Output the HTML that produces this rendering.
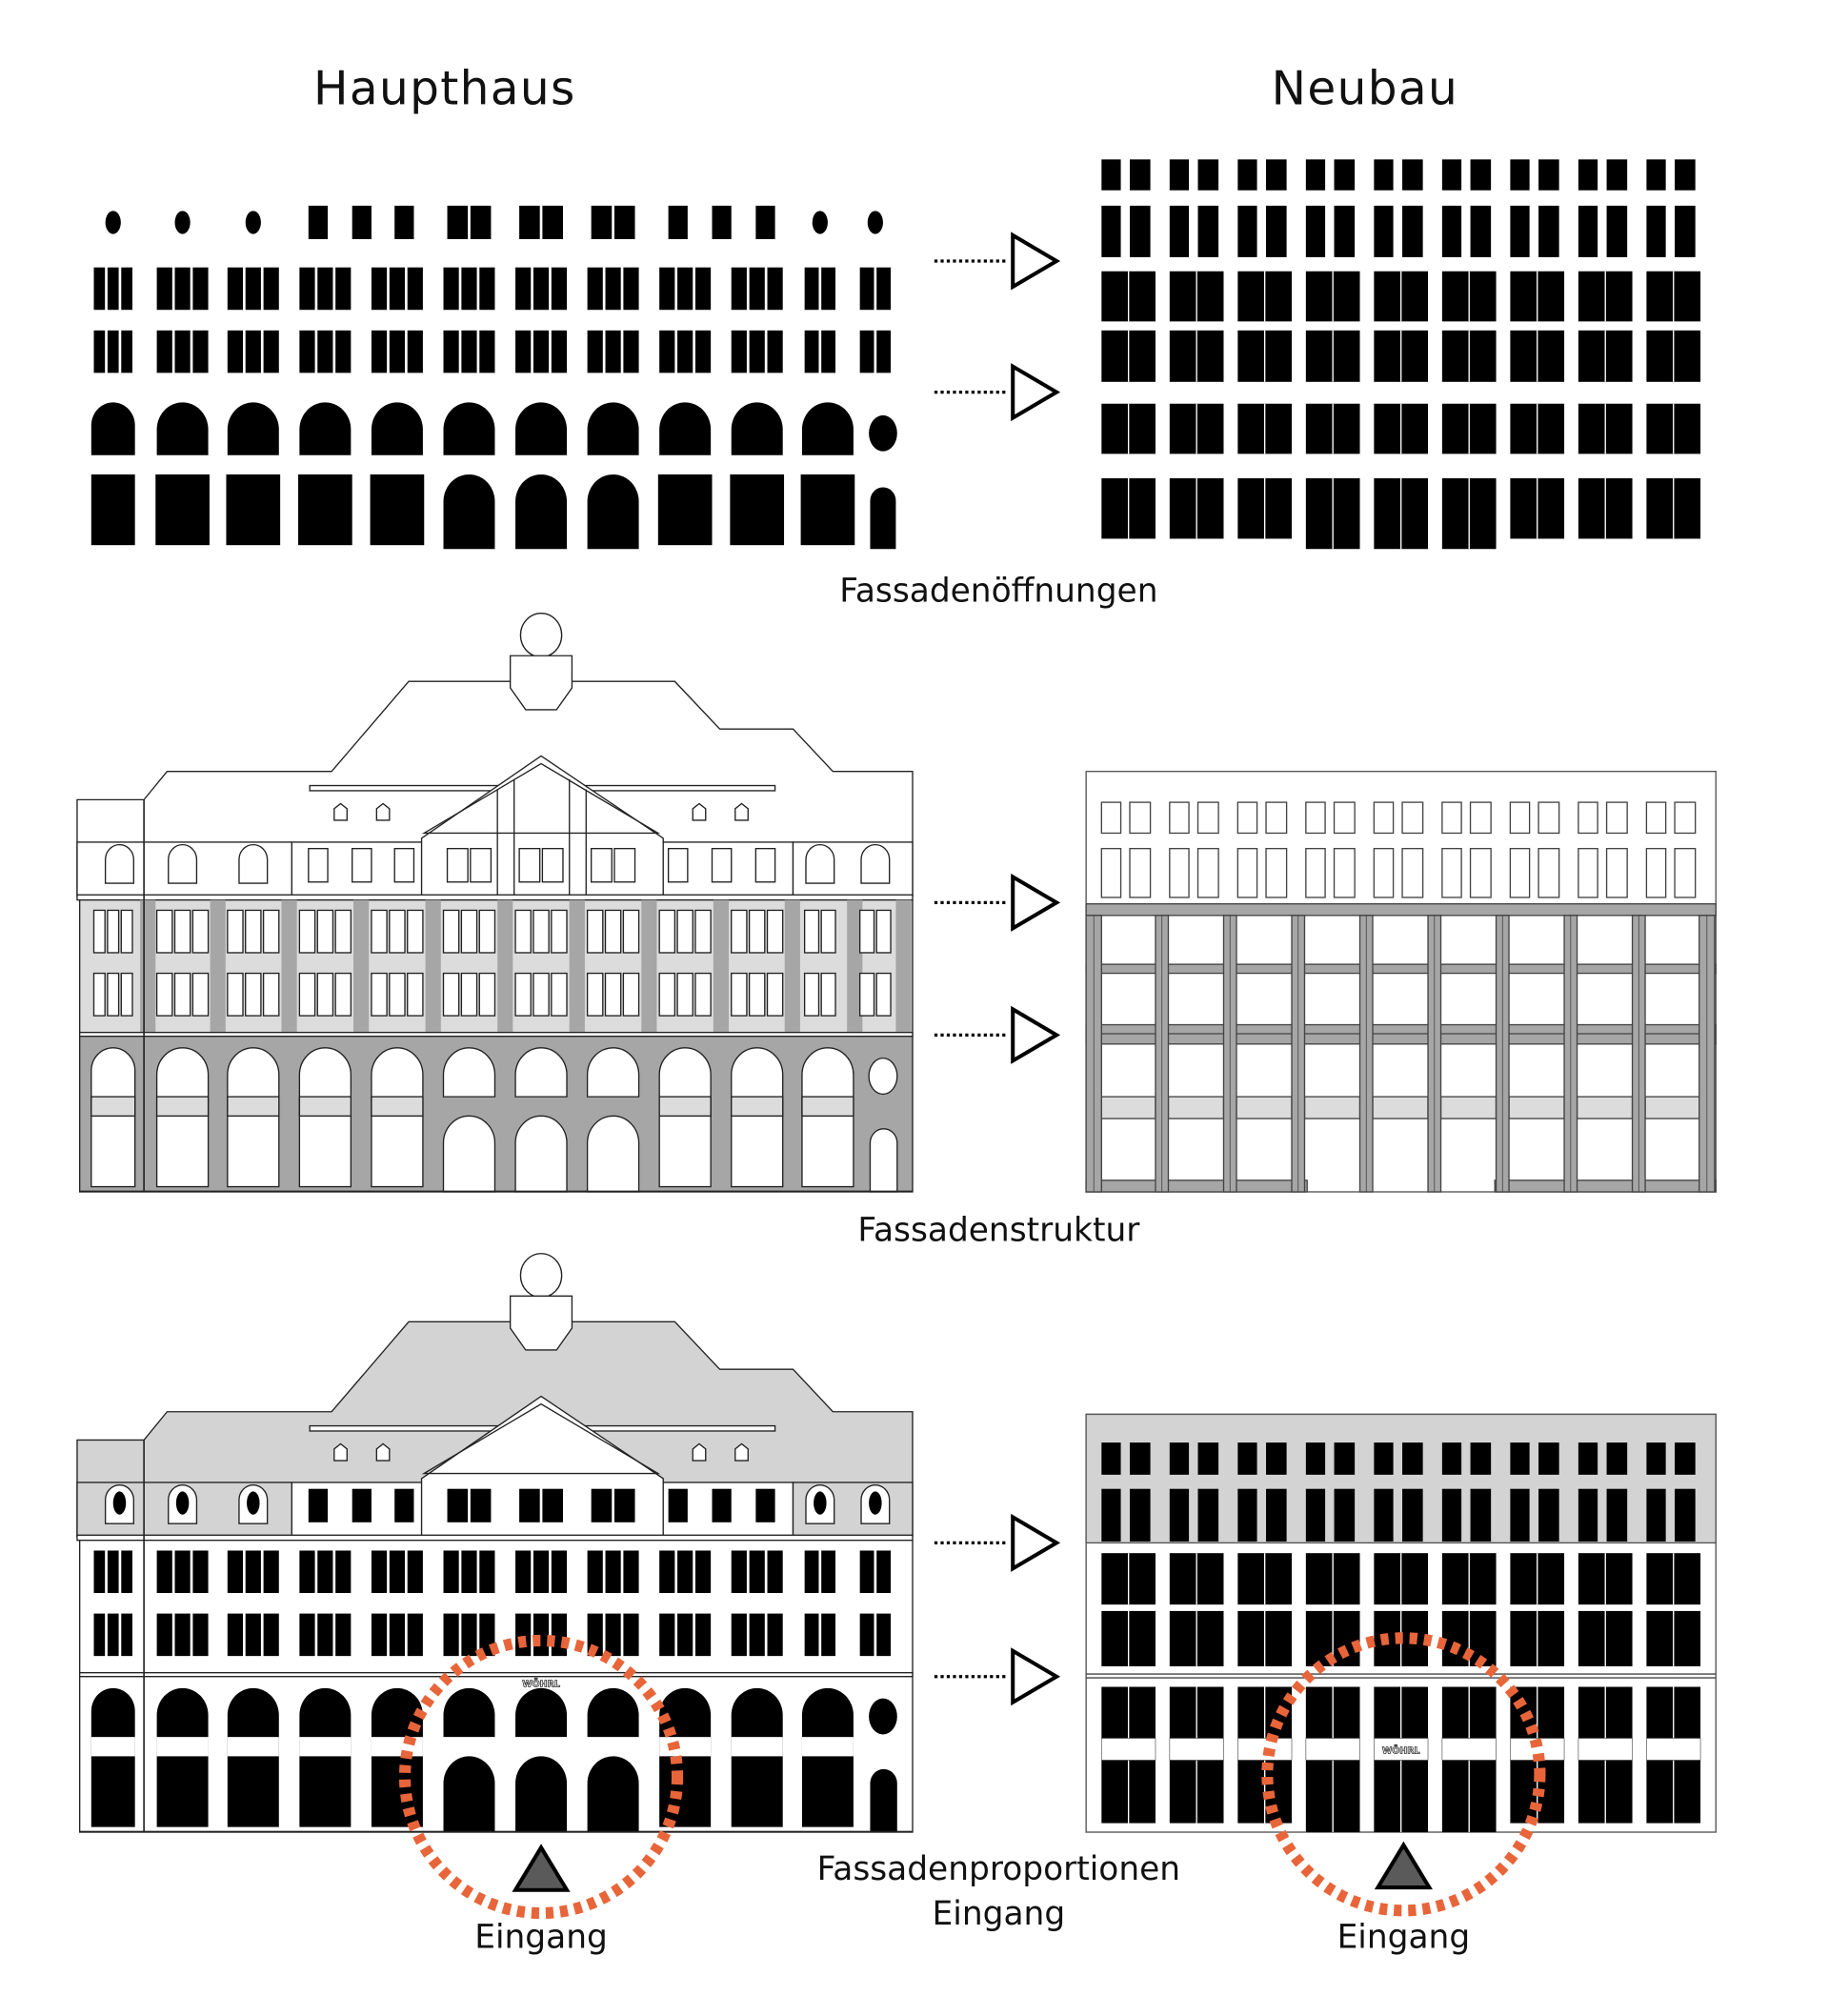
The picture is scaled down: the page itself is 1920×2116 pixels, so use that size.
<!DOCTYPE html>
<html><head><meta charset="utf-8">
<style>
html,body{margin:0;padding:0;background:#fff;}
svg{display:block;}
text{font-family:"DejaVu Sans","Liberation Sans",sans-serif;fill:#111;}
</style></head>
<body>
<svg id="s" width="1920" height="2116" viewBox="0 0 1423 1568" preserveAspectRatio="none" xmlns="http://www.w3.org/2000/svg">
<rect width="1423" height="1568" fill="#fff"/>
<g id="g"></g>
<text x="346" y="81" font-size="36" text-anchor="middle" letter-spacing="1">Haupthaus</text>
<text x="1062" y="81" font-size="36" text-anchor="middle" letter-spacing="1">Neubau</text>
<text x="777" y="468" font-size="25.5" text-anchor="middle">Fassadenöffnungen</text>
<text x="777" y="965" font-size="25.5" text-anchor="middle">Fassadenstruktur</text>
<text x="777" y="1462" font-size="25.5" text-anchor="middle">Fassadenproportionen</text>
<text x="777" y="1497" font-size="25.5" text-anchor="middle">Eingang</text>
<text x="421" y="1515" font-size="25.5" text-anchor="middle">Eingang</text>
<text x="1092" y="1515" font-size="25.5" text-anchor="middle">Eingang</text>
<text x="421" y="1312" font-size="7" font-weight="bold" text-anchor="middle" style="fill:#fff;stroke:#333;stroke-width:0.6">WÖHRL</text>
<text x="1090" y="1364" font-size="7" font-weight="bold" text-anchor="middle" style="fill:#fff;stroke:#333;stroke-width:0.6">WÖHRL</text>
</svg>
<script>
var g=document.getElementById('g');var NS='http://www.w3.org/2000/svg';
function el(t,a){var e=document.createElementNS(NS,t);for(var k in a)e.setAttribute(k,a[k]);g.appendChild(e);return e;}
function R(x,y,w,h,f,s,sw){return el('rect',{x:x,y:y,width:w,height:h,fill:f||'#000',stroke:s||'none','stroke-width':sw||1});}
function arch(x,y,w,h,f,s){var r=w/2,ry=r*1.05;return el('path',{d:'M'+x+','+(y+h)+'V'+(y+ry)+'A'+r+','+ry+' 0 0 1 '+(x+w)+','+(y+ry)+'V'+(y+h)+'Z',fill:f||'#000',stroke:s||'none','stroke-width':1});}
function E(cx,cy,rx,ry,f,s){return el('ellipse',{cx:cx,cy:cy,rx:rx,ry:ry,fill:f||'#000',stroke:s||'none','stroke-width':1});}
function P(pts,f,s,sw){return el('polygon',{points:pts,fill:f||'none',stroke:s||'none','stroke-width':sw||1});}
function L(x1,y1,x2,y2,s,sw,da){var e=el('line',{x1:x1,y1:y1,x2:x2,y2:y2,stroke:s||'#000','stroke-width':sw||1});if(da)e.setAttribute('stroke-dasharray',da);return e;}

var C=[88,142,197,253,309,365,421,477,533,589,644];
function bars(cx,y,h,n,w,f,s){var gap=2,bw=(w-gap*(n-1))/n,x0=cx-w/2;for(var i=0;i<n;i++)R(x0+i*(bw+gap),y,bw,h,f,s);}
function upperWins(y,h,f,s){for(var i=0;i<10;i++)bars(C[i],y,h,3,i==0?30:40,f,s);bars(638,y,h,2,24,f,s);bars(681,y,h,2,24,f,s);}
function atticWins(y,f,s){[247,281,314,527,561,595].forEach(function(x){R(x-7,y,15,26,f,s);});[365,421,477].forEach(function(x){bars(x,y,26,2,34,f,s);});}

[88,142,197,638,681].forEach(function(x){E(x,173,6,9);});
atticWins(160,'#000');
upperWins(208,33,'#000');upperWins(257,33,'#000');
for(var i=0;i<11;i++){var w=i==0?34:40;arch(C[i]-w/2,313,w,41);}
E(687,337,11,14);
for(var i=0;i<11;i++){var w=i==0?34:42;if(i>=5&&i<=7)arch(C[i]-20,369,40,58);else R(C[i]-w/2,369,w,55);}
arch(677,379,20,48);

function HB(oy,filled){
 var S='#222',roof=filled?'#d3d3d3':'#fff';
 function y(v){return v+oy;}
 P([[60,y(697)],[60,y(622)],[112,y(622)],[130,y(600)],[258,y(600)],[318,y(530)],[525,y(530)],[560,y(567)],[617,y(567)],[648,y(600)],[710,y(600)],[710,y(697)]].join(' '),roof,S);
 E(421,y(494),16,17,'#fff',S);
 P([[397,y(510)],[445,y(510)],[445,y(535)],[433,y(552)],[409,y(552)],[397,y(535)]].join(' '),'#fff',S);
 R(241,y(611),362,4,'#fff',S);
 R(227,y(655),390,42,'#fff',S);
 if(filled){R(60,y(655),167,42,'#d3d3d3',S);R(617,y(655),93,42,'#d3d3d3',S);}
 else{R(60,y(655),167,42,'#fff',S);R(617,y(655),93,42,'#fff',S);}
 P([[328,y(652)],[421,y(588)],[516,y(652)],[516,y(697)],[328,y(697)]].join(' '),'#fff',S);
 P([[330,y(648)],[421,y(594)],[512,y(648)]].join(' '),'none',S);
 if(!filled){L(387,y(614),387,y(697),S);L(400,y(606),400,y(697),S);L(443,y(606),443,y(697),S);L(456,y(614),456,y(697),S);}
 [265,298,544,577].forEach(function(x){P([[x-5,y(638)],[x-5,y(629)],[x,y(625)],[x+5,y(629)],[x+5,y(638)]].join(' '),'#fff',S);});
 [93,142,197,638,681].forEach(function(x){arch(x-11,y(657),22,30,'#fff',S);if(filled)E(x,y(671),5,9);});
 atticWins(y(660),filled?'#000':'#fff',filled?'none':S);
 R(60,y(696),650,4,'#fff',S);
 R(62,y(700),648,105,filled?'#fff':'#dcdcdc',S);
 if(!filled){[115,169.5,225,281,337,393,449,505,561,616.5,665,703].forEach(function(x){R(x-6,y(700),12,105,'#a6a6a6','none');});}
 upperWins(y(708),33,filled?'#000':'#fff',filled?'none':S);
 upperWins(y(757),33,filled?'#000':'#fff',filled?'none':S);
 R(62,y(803),648,3,'#fff',S);
 R(62,y(806),648,121,filled?'#fff':'#a6a6a6',S);
 var op=filled?'#000':'#fff',os=filled?'none':S;
 for(var i=0;i<11;i++){var w=i==0?34:40,x=C[i]-w/2;
  if(i>=5&&i<=7){arch(x,y(815),w,38,op,os);arch(x,y(868),w,59,op,os);}
  else{arch(x,y(815),w,108,op,os);R(x,y(853),w,15,filled?'#fff':'#dcdcdc',os);}
 }
 E(687,y(837),11,14,op,os);arch(677,y(878),21,49,op,os);
 L(112,y(622),112,y(927),S,1.2);
 R(62,y(926),648,1,'#222');
}
HB(0,false);HB(498,true);

function cx(k){return 851+53*k;}
function sepPairs(y,h,f,s){for(var k=0;k<9;k++){var x=cx(k)+6;R(x,y,15,h,f,s);R(x+22,y,16,h,f,s);}}
function tPairs(y,h,f,s,ext){for(var k=0;k<9;k++){var x=cx(k)+6;var hh=(ext&&k>=3&&k<=5)?h+ext:h;R(x,y,42,hh,f,s);L(x+21,y,x+21,y+hh,f=='#000'?'#fff':s,1);}}
sepPairs(124,24,'#000');sepPairs(160,40,'#000');
tPairs(211,39,'#000');tPairs(257,40,'#000');tPairs(314,39,'#000');tPairs(372,47,'#000',null,8);
R(845,600,490,327,'#fff','#555');
sepPairs(624,24,'#fff','#444');sepPairs(660,38,'#fff','#444');
R(845,703,490,9,'#a6a6a6','#444');R(845,750,490,7,'#a6a6a6','#444');R(845,797,490,15,'#a6a6a6','#444');L(845,804,1335,804,'#444');
for(var k=0;k<9;k++){R(cx(k)+5,853,43,17,'#dcdcdc','#444');}
R(845,918,172,9,'#a6a6a6','#444');R(1163,918,172,9,'#a6a6a6','#444');
for(var k=0;k<=9;k++){var w=(k==0||k==9)?12:10;R(cx(k)-w/2,712,w,215,'#a6a6a6','#444');L(cx(k),712,cx(k),927,'#444',0.6);}
R(845,1100,490,325,'#fff','#555');R(845,1100,490,100,'#d3d3d3','#555');
sepPairs(1122,25,'#000');sepPairs(1158,41,'#000');
tPairs(1208,40,'#000');tPairs(1253,43,'#000');
L(845,1302,1335,1302,'#444');L(845,1305,1335,1305,'#444');
tPairs(1312,106,'#000',null,7);
for(var k=0;k<9;k++){R(cx(k)+6,1352,42,17,'#fff','#555',0.5);}

[203,305,702,805,1200,1304].forEach(function(yy){L(727,yy,784,yy,'#000',2.4,'2.4 2.4');P([[788,yy-20],[788,yy+20],[822,yy]].join(' '),'#fff','#000',3);});

[[421,1382],[1092,1380]].forEach(function(c){el('circle',{cx:c[0],cy:c[1],r:106,fill:'none',stroke:'#e8653a','stroke-width':9,'stroke-dasharray':'6 5.2'});
 P([[c[0],c[1]+55],[c[0]-20,c[1]+88],[c[0]+20,c[1]+88]].join(' '),'#5a5a5a','#000',3);});
</script>
</body></html>
